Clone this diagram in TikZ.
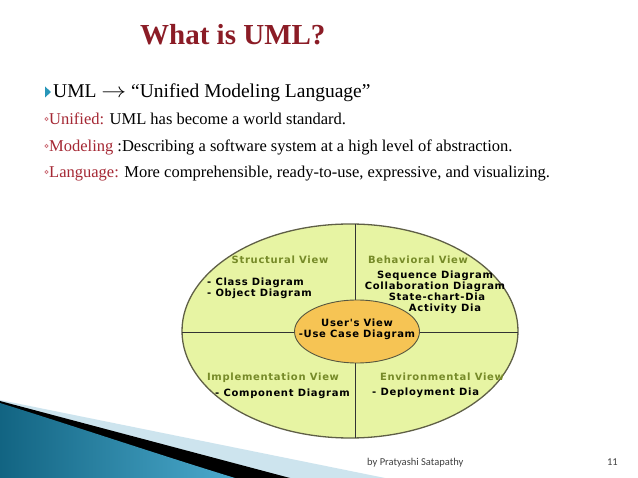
\documentclass[tikz,border=0pt]{standalone}
\usepackage{fontspec}
\setmainfont{Liberation Serif}
\newfontfamily\diafont{DejaVu Sans}[LetterSpace=7]
\newfontfamily\footfont{Carlito}
\usetikzlibrary{shapes.geometric}
\definecolor{titlered}{RGB}{139,28,38}
\definecolor{umlred}{RGB}{165,40,52}
\definecolor{bulletpink}{RGB}{205,110,120}
\definecolor{bulletteal}{RGB}{40,150,185}
\definecolor{outerfill}{RGB}{231,244,163}
\definecolor{innerfill}{RGB}{246,196,84}
\definecolor{rimgray}{RGB}{95,95,70}
\definecolor{headgreen}{RGB}{118,138,40}
\definecolor{paleblue}{RGB}{205,228,238}
\definecolor{deepblue}{RGB}{18,100,130}
\definecolor{lightblue}{RGB}{75,170,205}
\definecolor{footgray}{RGB}{64,64,64}
\tikzset{
  bodytext/.style={anchor=base west, inner sep=0pt, font=\fontsize{16.5}{19}\selectfont},
  viewhead/.style={inner sep=0pt, text height=7.2pt, text depth=0pt, text=headgreen, font=\diafont\bfseries\fontsize{10}{11}\selectfont},
  viewitem/.style={inner sep=0pt, text height=7.2pt, text depth=0pt, text=black, font=\diafont\bfseries\fontsize{10}{11}\selectfont},
  foottext/.style={inner sep=0pt, text=footgray, font=\footfont\fontsize{10.5}{12}\selectfont},
}
\begin{document}
\begin{tikzpicture}[x=1pt,y=-1pt]
\useasboundingbox (0,0) rectangle (638,478);
\fill[white] (0,0) rectangle (638,478);

% bottom-left decoration
\fill[paleblue] (0,400) -- (385,478) -- (0,478) -- cycle;
\fill[black] (0,401) -- (290,478) -- (0,478) -- cycle;
\shade[left color=deepblue, right color=lightblue] (0,403) .. controls (80,428) and (160,455) .. (235,478) -- (0,478) -- cycle;

% title
\node[anchor=base west, inner sep=0pt, text=titlered, font=\bfseries\fontsize{29}{34}\selectfont] (title) at (140,45) {What is UML?};

% bullets
\fill[bulletteal] (45,86.5) -- (51,92) -- (45,97.5) -- cycle;
\node[anchor=base west, inner sep=0pt, font=\fontsize{19.5}{23}\selectfont] (l1) at (53,98) {UML \scalebox{1.2}[1]{$\rightarrow$} “Unified Modeling Language”};

\draw[bulletpink, line width=0.6pt] (46.5,119) circle (1.6pt);
\node[bodytext] (l2) at (49,125) {\textcolor{umlred}{Unified:} UML has become a world standard.};
\draw[bulletpink, line width=0.6pt] (46.5,146) circle (1.6pt);
\node[bodytext] (l3) at (49,152) {\textcolor{umlred}{Modeling} :Describing a software system at a high level of abstraction.};
\draw[bulletpink, line width=0.6pt] (46.5,172) circle (1.6pt);
\node[bodytext] (l4) at (49,178) {\textcolor{umlred}{Language:} More comprehensible, ready-to-use, expressive, and visualizing.};

% diagram
\node[ellipse, draw=rimgray, fill=outerfill, line width=1.3pt, minimum width=336pt, minimum height=214pt, inner sep=0pt] (outer) at (350,331) {};
\begin{scope}
  \clip (350,331) ellipse [x radius=168pt, y radius=107pt];
  \draw[black!80, line width=0.8pt] (355,200) -- (355,460);
  \draw[black!80, line width=0.8pt] (150,332) -- (550,332);
\end{scope}
\node[ellipse, draw=rimgray!90!black, fill=innerfill, line width=0.9pt, minimum width=125pt, minimum height=63pt, inner sep=0pt] (user) at (357,331.5) {};

\node[viewhead] (sv) at (280,260) {Structural View};
\node[viewitem, anchor=west] (cd) at (207,282) {- Class Diagram};
\node[viewitem, anchor=west] (od) at (207,293) {- Object Diagram};

\node[viewhead] (bv) at (418,260) {Behavioral View};
\node[viewitem] (sd) at (435,274.5) {Sequence Diagram};
\node[viewitem] (cod) at (435,285.5) {Collaboration Diagram};
\node[viewitem] (scd) at (437,296.5) {State-chart-Dia};
\node[viewitem] (ad) at (445,307.5) {Activity Dia};

\node[viewitem] (uv) at (357,323) {User's View};
\node[viewitem] (ucd) at (357,334) {-Use Case Diagram};

\node[viewhead] (iv) at (273,377) {Implementation View};
\node[viewitem, anchor=west] (cpd) at (215,392.5) {- Component Diagram};

\node[viewhead] (ev) at (442,377) {Environmental View};
\node[viewitem, anchor=west] (dd) at (372,392) {- Deployment Dia};

% footer
\node[foottext, anchor=base west] (author) at (367,466) {by Pratyashi Satapathy};
\node[foottext, anchor=base east] (page) at (618,466) {11};
\end{tikzpicture}
\end{document}
